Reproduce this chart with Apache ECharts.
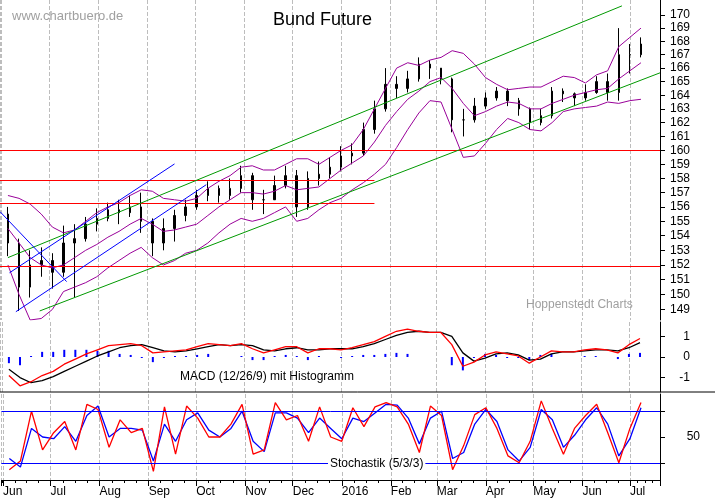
<!DOCTYPE html>
<html><head><meta charset="utf-8">
<script src="https://cdn.jsdelivr.net/npm/echarts@6/dist/echarts.min.js"></script>
<style>html,body{margin:0;padding:0;background:#fff}#c{width:715px;height:499px}</style>
</head><body><div id="c"></div>
<script>
const dates = ['2015-06-05','2015-06-12','2015-06-19','2015-06-26','2015-07-03','2015-07-10','2015-07-17','2015-07-24','2015-07-31',
'2015-08-07','2015-08-14','2015-08-21','2015-08-28','2015-09-04','2015-09-11','2015-09-18','2015-09-25',
'2015-10-02','2015-10-09','2015-10-16','2015-10-23','2015-10-30','2015-11-06','2015-11-13','2015-11-20','2015-11-27',
'2015-12-04','2015-12-11','2015-12-18','2015-12-25','2016-01-01','2016-01-08','2016-01-15','2016-01-22','2016-01-29',
'2016-02-05','2016-02-12','2016-02-19','2016-02-26','2016-03-04','2016-03-11','2016-03-18','2016-03-25',
'2016-04-01','2016-04-08','2016-04-15','2016-04-22','2016-04-29','2016-05-06','2016-05-13','2016-05-20','2016-05-27',
'2016-06-03','2016-06-10','2016-06-17','2016-06-24','2016-07-01','2016-07-08'];
// [open, close, low, high]
const ohlc = [[155.5,153.5,152.6,156.0],[153.5,150.5,148.9,153.8],[150.5,152.0,149.8,153.0],[152.0,152.3,151.2,153.2],
[152.3,151.5,150.4,152.8],[151.5,153.5,151.2,154.7],[153.5,153.8,149.8,154.8],[153.8,154.8,153.6,155.3],[154.8,155.2,154.3,155.9],
[155.2,155.8,155.0,156.3],[155.8,155.6,154.8,156.5],[155.6,156.0,155.3,156.8],[156.0,155.0,154.2,157.0],
[155.0,153.5,152.6,155.2],[153.5,154.5,153.0,155.2],[154.5,155.4,153.6,155.8],[155.4,156.0,155.0,156.5],
[156.0,156.8,155.8,157.2],[156.8,157.3,156.4,157.8],[157.3,156.8,156.3,157.5],[156.8,157.3,156.5,158.0],[157.3,158.2,157.0,158.9],
[158.2,156.5,155.8,158.4],[156.5,156.5,155.5,157.2],[156.5,157.5,156.6,158.2],[157.5,158.2,157.3,158.9],
[158.2,156.0,155.3,158.6],[156.0,158.0,155.8,158.5],[158.0,158.3,157.5,159.2],[158.3,158.8,158.0,159.5],
[158.8,159.6,158.5,160.3],[159.6,159.8,159.0,160.5],[159.8,161.5,159.6,162.0],[161.5,163.0,161.2,163.6],[163.0,164.8,162.8,166.0],
[164.8,164.5,163.8,165.4],[164.5,165.2,164.2,165.8],[165.2,166.3,165.0,166.8],[166.3,166.0,165.2,166.6],
[166.0,165.2,164.8,166.0],[165.2,162.2,161.3,165.3],[162.2,162.2,161.0,163.0],[162.2,163.2,162.0,163.8],
[163.2,163.8,163.0,164.2],[163.8,164.3,163.6,164.6],[164.3,163.6,163.2,164.5],[163.6,163.0,162.5,163.8],[163.0,162.0,161.5,163.1],
[162.0,162.5,161.8,163.0],[162.5,164.3,162.3,164.6],[164.3,164.1,163.5,164.5],[164.1,163.8,163.2,164.2],
[163.8,164.2,163.6,164.8],[164.2,165.0,164.1,165.4],[165.0,164.2,163.6,165.6],[164.2,167.0,163.6,169.0],
[167.0,167.0,165.6,167.8],[167.0,167.8,166.8,168.3]];
const bbUpper = [156.8,156.6,156.2,155.5, 154.6,154.2,154.4,155.0,155.6, 156.0,156.3,156.8,157.2, 157.1,156.6,156.5,156.4,
156.6,157.3,157.8,158.2,158.8, 158.9,158.6,158.6,159.0, 159.4,159.4,159.0,159.5, 160.0,160.4,161.5,163.0,164.5,
166.0,166.4,166.2,166.6, 166.8,167.3,167.1,166.3, 165.3,164.8,164.4,164.5,164.6, 164.6,165.0,165.4,165.3, 164.9,165.5,165.8,167.6, 168.3,169.0];
const bbMiddle = [154.5,153.5,152.5,152.0, 151.8,152.0,152.5,153.0,153.4, 153.9,154.3,154.8,155.2, 154.8,154.3,154.4,154.6,
154.8,155.4,156.0,156.5,157.0, 157.0,156.9,157.1,157.5, 157.2,157.3,157.4,158.0, 158.6,159.1,159.6,160.6,161.8,
162.8,163.7,164.3,165.0, 165.3,164.5,163.4,162.5, 162.8,163.2,163.5,163.4,163.0, 163.0,163.4,163.7,164.0, 164.2,164.4,164.5,165.2, 165.8,166.4];
const bbLower = [152.0,150.0,148.3,148.4, 149.0,150.2,150.5,150.8,151.2, 151.8,152.3,152.8,153.2, 152.5,152.0,152.3,152.8,
153.0,153.5,154.2,154.8,155.2, 155.0,155.2,155.6,156.0, 155.0,155.2,155.8,156.3, 156.6,157.2,157.7,158.3,159.0,
160.2,161.5,162.7,163.6, 163.5,161.5,159.5,159.6, 160.5,161.5,162.3,162.0,161.5, 161.4,162.0,162.8,163.0, 163.1,163.2,163.5,163.4, 163.6,163.7];
const macdLine = [-0.9,-1.4,-1.2,-0.9,-0.7,-0.35,-0.1,0.15,0.35,0.55,0.6,0.65,0.55,0.2,0.25,0.3,0.35,0.5,0.65,0.6,0.55,0.65,0.4,0.2,0.35,0.5,0.5,0.2,0.4,0.4,
0.35,0.45,0.6,0.75,1.0,1.25,1.35,1.25,1.2,1.2,0.6,-0.45,-0.25,0.1,0.25,0.15,0.05,-0.3,0.0,0.3,0.25,0.25,0.35,0.4,0.35,0.2,0.6,0.9];
const macdSignal = [-0.6,-1.0,-1.25,-1.15,-0.95,-0.7,-0.45,-0.2,0.05,0.25,0.45,0.55,0.6,0.45,0.3,0.25,0.3,0.4,0.5,0.6,0.55,0.6,0.55,0.35,0.3,0.4,0.45,0.35,0.35,0.4,
0.4,0.4,0.5,0.65,0.85,1.05,1.2,1.25,1.2,1.2,1.0,0.2,-0.2,-0.05,0.15,0.2,0.1,-0.15,-0.1,0.15,0.25,0.25,0.3,0.35,0.35,0.3,0.45,0.7];
const macdHist = [-0.3,-0.4,0.05,0.25,0.25,0.35,0.35,0.35,0.3,0.3,0.15,0.1,-0.05,-0.25,-0.05,0.05,0.05,0.1,0.15,0.0,0.0,0.05,-0.15,-0.15,0.05,0.1,0.05,-0.15,0.05,0.0,
-0.05,0.05,0.1,0.1,0.15,0.2,0.15,0.0,0.0,0.0,-0.4,-0.65,-0.05,0.15,0.1,-0.05,-0.05,-0.15,0.1,0.15,0.0,0.0,0.05,0.05,0.0,-0.1,0.15,0.2];
const stochK = [12,22,80,35,55,68,35,88,82,38,70,55,60,10,85,30,86,72,50,50,65,88,30,35,90,70,75,45,85,50,
45,84,62,85,90,85,65,32,86,75,12,40,76,84,60,28,20,45,92,60,30,60,75,88,55,20,60,90];
const stochD = [25,15,60,50,48,62,45,75,86,50,60,60,58,22,65,45,70,78,58,50,60,80,45,33,78,78,72,55,72,60,
48,72,68,78,88,87,72,42,72,80,25,32,65,82,68,35,22,38,82,70,38,52,70,84,65,28,48,84];
const priceTicks = [149,150,151,152,153,154,155,156,157,158,159,160,161,162,163,164,165,166,167,168,169,170];
const monthNames = ['Jan','Feb','Mar','Apr','May','Jun','Jul','Aug','Sep','Oct','Nov','Dec'];

const candle = dates.map((d,i)=>[d].concat(ohlc[i]));
const pair = (arr)=>dates.map((d,i)=>[d,arr[i]]);
const F = 'Liberation Sans, Arial, sans-serif';
const X0 = '2015-05-31', X1 = '2016-07-20';
const DAY = 86400000;
function xa(gi, showLabels){
  return {type:'time', gridIndex:gi, min:X0, max:X1, splitNumber:14, minInterval:27*DAY, maxInterval:32*DAY,
    axisLine:{show:showLabels, lineStyle:{color:'#000'}},
    axisTick:{show:showLabels, length:6, lineStyle:{color:'#000'}},
    minorTick:{show:showLabels, splitNumber:4, length:3, lineStyle:{color:'#000'}},
    axisLabel:{show:showLabels, align:'left', margin:6, color:'#000', fontFamily:F, fontSize:12,
      formatter:(v)=>{const d=new Date(v); return d.getMonth()===0? String(d.getFullYear()) : monthNames[d.getMonth()];}},
    splitLine:{show:true, lineStyle:{color:'#bdbdbd', type:'dashed'}}};
}
const lineS = (name, data, color, xi, yi, w)=>({type:'line', name, data, xAxisIndex:xi, yAxisIndex:yi, symbol:'none',
  lineStyle:{color, width:w||1}, silent:true});
function seg(a,b,color){return [{coord:a, lineStyle:{color, width:1, type:'solid'}},{coord:b}];}

const option = {
  animation:false,
  grid:[{left:0,right:55,top:0,height:320},{left:0,right:55,top:322,height:70},{left:0,right:55,top:394,height:86}],
  xAxis:[xa(0,false), xa(1,false), xa(2,true)],
  yAxis:[
    {type:'log', gridIndex:0, position:'right', min:148.3, max:171.14, logBase:10,
     axisLine:{show:true, lineStyle:{color:'#000'}}, splitLine:{show:false},
     axisTick:{show:true, length:5, customValues:priceTicks, lineStyle:{color:'#000'}},
     axisLabel:{customValues:priceTicks, margin:10, color:'#000', fontFamily:F, fontSize:12}},
    {type:'value', gridIndex:1, position:'right', min:-1.7, max:1.7,
     axisLine:{show:true, lineStyle:{color:'#000'}}, splitLine:{show:false},
     axisTick:{show:true, length:5, customValues:[-1,0,1], lineStyle:{color:'#000'}},
     axisLabel:{customValues:[-1,0,1], margin:30, color:'#000', fontFamily:F, fontSize:12, align:'right'}},
    {type:'value', gridIndex:2, position:'right', min:0, max:100,
     axisLine:{show:true, lineStyle:{color:'#000'}}, splitLine:{show:false},
     axisTick:{show:true, length:5, customValues:[20,50,80], lineStyle:{color:'#000'}},
     axisLabel:{customValues:[50], margin:40, color:'#000', fontFamily:F, fontSize:12, align:'right'}}
  ],
  series:[
    lineS('bbU', pair(bbUpper), '#990099', 0, 0),
    lineS('bbM', pair(bbMiddle), '#990099', 0, 0),
    lineS('bbL', pair(bbLower), '#990099', 0, 0),
    {type:'candlestick', name:'Bund', data:candle, xAxisIndex:0, yAxisIndex:0, barWidth:2,
     itemStyle:{color:'#000', color0:'#000', borderColor:'#000', borderColor0:'#000', borderWidth:1},
     markLine:{silent:true, symbol:'none', label:{show:false}, animation:false, data:[
       seg(['2015-05-31',160.0],['2016-07-20',160.0],'#ff0000'),
       seg(['2015-05-31',151.88],['2016-07-20',151.88],'#ff0000'),
       seg(['2015-05-31',157.9],['2016-01-22',157.9],'#ff0000'),
       seg(['2015-05-31',156.28],['2016-01-22',156.28],'#ff0000'),
       seg(['2015-06-05',152.5],['2016-06-26',170.69],'#009900'),
       seg(['2015-06-25',148.9],['2016-07-20',165.65],'#009900'),
       seg(['2015-05-31',155.67],['2015-07-12',150.87],'#0000ff'),
       seg(['2015-06-06',151.47],['2015-09-18',159.03],'#0000ff'),
       seg(['2015-06-10',148.85],['2015-10-08',157.56],'#0000ff')
     ]}},
    {type:'bar', name:'hist', data:pair(macdHist), xAxisIndex:1, yAxisIndex:1, barWidth:2, itemStyle:{color:'#0000ff'}, silent:true},
    lineS('signal', pair(macdSignal), '#000', 1, 1, 1.3),
    lineS('macd', pair(macdLine), '#ff0000', 1, 1, 1.3),
    Object.assign(lineS('D', pair(stochD), '#0000ff', 2, 2, 1.3), {markLine:{silent:true, symbol:'none', label:{show:false},
      data:[seg([X0,80],[X1,80],'#0000ff'), seg([X0,20],[X1,20],'#0000ff')]}}),
    lineS('K', pair(stochK), '#ff0000', 2, 2, 1.3)
  ],
  graphic:[
    {type:'text', z:100, left:12, top:10, style:{text:'www.chartbuero.de', fill:'#a0a0a0', font:'13px '+F}},
    {type:'text', z:100, left:273, top:11, style:{text:'Bund Future', fill:'#000', font:'18px '+F}},
    {type:'text', z:100, left:526, top:299, style:{text:'Hoppenstedt Charts', fill:'#a0a0a0', font:'12px '+F}},
    {type:'text', z:100, left:180, top:371, style:{text:'MACD (12/26/9) mit Histogramm', fill:'#000', font:'12px '+F}},
    {type:'text', z:100, left:328, top:458, style:{text:'Stochastik (5/3/3)', fill:'#000', font:'12px '+F, backgroundColor:'#fff', padding:[0,2]}},
    {type:'line', z:100, shape:{x1:0,y1:392,x2:715,y2:392}, style:{stroke:'#000', lineWidth:1}}
  ]
};
echarts.init(document.getElementById('c')).setOption(option);
</script></body></html>
